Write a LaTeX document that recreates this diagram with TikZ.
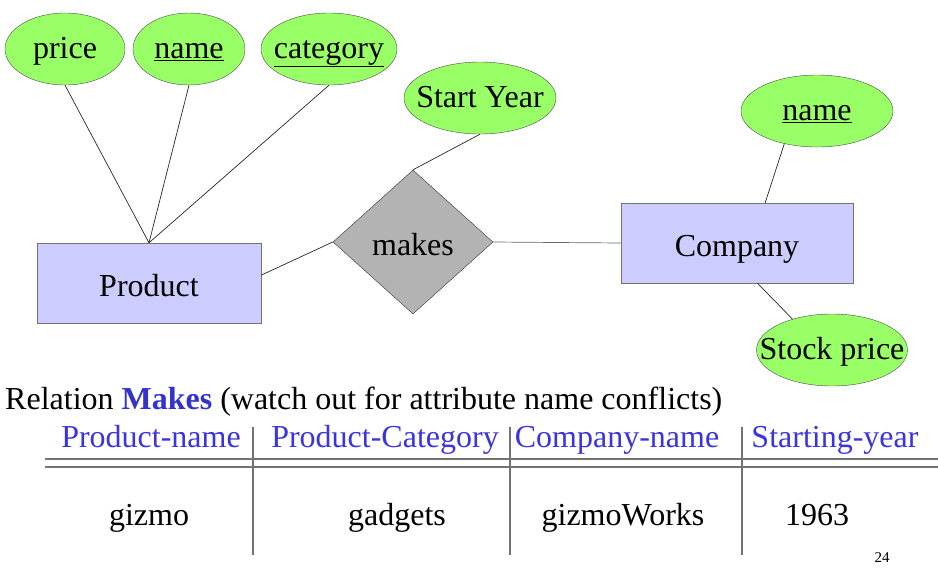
\documentclass[tikz,border=0pt]{standalone}
\usepackage{fontspec}
\setmainfont{Liberation Serif}
\usepackage{tikz}
\usetikzlibrary{shapes.geometric}
\usetikzlibrary{calc}

\definecolor{attrgreen}{RGB}{153,255,102}
\definecolor{entblue}{RGB}{204,204,255}
\definecolor{relgray}{RGB}{179,179,179}
\definecolor{headblue}{RGB}{58,51,224}
\definecolor{makesblue}{RGB}{51,51,204}
\newcommand{\zerowd}[1]{\makebox[0pt]{#1}}

\begin{document}
\begin{tikzpicture}[x=1pt,y=-1pt,
        every node/.style={font=\fontsize{32}{32}\selectfont},
        attr/.style={ellipse,draw=black!70,fill=attrgreen,inner sep=0pt,minimum width=#1,minimum height=72,
            text height=27pt,text depth=9pt},
        entity/.style={rectangle,draw=black!55,fill=entblue,minimum width=#1,minimum height=80,inner sep=0pt,
            text height=31pt,text depth=5pt},
        rel/.style={diamond,draw=black!80,fill=relgray,minimum width=160,minimum height=144,inner sep=0pt,
            text height=31pt,text depth=5pt},
        link/.style={draw=black!85,line width=0.7pt},
        rule/.style={draw=black!55,line width=1.4pt},
        head/.style={text=headblue,anchor=base},
        cell/.style={anchor=base}]
        \useasboundingbox (0,0) rectangle (938,574);
        % entities and relationship
        \node[entity=224] (product) at (149,283) {Product};
        \node[entity=232] (company) at (737,243) {Company};
        \node[rel] (makes) at (413,242) {\zerowd{makes}};
        % attributes
        \node[attr=120] (price) at (65,49) {\zerowd{price}};
        \node[attr=112] (pname) at (189,49) {\zerowd{\underline{name}}};
        \node[attr=136] (category) at (329,49) {\zerowd{\underline{category}}};
        \node[attr=152] (start) at (480,98) {\zerowd{Start Year}};
        \node[attr=152] (cname) at (817,111) {\zerowd{\underline{name}}};
        \node[attr=151] (stock) at (832,350) {\zerowd{Stock price}};
        % connectors
        \draw[link] (price.south) -- (product.north);
        \draw[link] (pname.south) -- (product.north);
        \draw[link] (category.south) -- (product.north);
        \draw[link] (start.south) -- (makes.north);
        \draw[link] (product.4) -- (makes.west);
        \draw[link,draw=black!60] (makes.east) -- (company.west);
        \draw[link] (cname.225) -- (company.55);
        \draw[link] (company.297) -- (stock.142);
        % relation table
        \node[anchor=base west,inner sep=0pt] (title) at (5,409) {Relation \textcolor{makesblue}{\textbf{Makes}} (watch out for attribute name conflicts)};
        \node[head] (h1) at (151,447) {Product-name};
        \node[head] (h2) at (385,447) {Product-Category};
        \node[head] (h3) at (617,447) {Company-name};
        \node[head] (h4) at (835,447) {Starting-year};
        \node[cell] (c1) at (149,525) {gizmo};
        \node[cell] (c2) at (397,525) {gadgets};
        \node[cell] (c3) at (623,525) {gizmoWorks};
        \node[cell] (c4) at (817,525) {1963};
        \coordinate (r1) at (45,459);
        \coordinate (r2) at (45,467);
        \draw[rule] (r1) -- (r1 -| 938,0);
        \draw[rule] (r2) -- (r2 -| 938,0);
        \foreach \x in {253,510,742}
            \draw[draw=black!55,line width=1.2pt] (\x,427) -- (\x,555);
        \node[font=\fontsize{15}{15}\selectfont,anchor=base] (page) at (882,562) {24};
\end{tikzpicture}
\end{document}
